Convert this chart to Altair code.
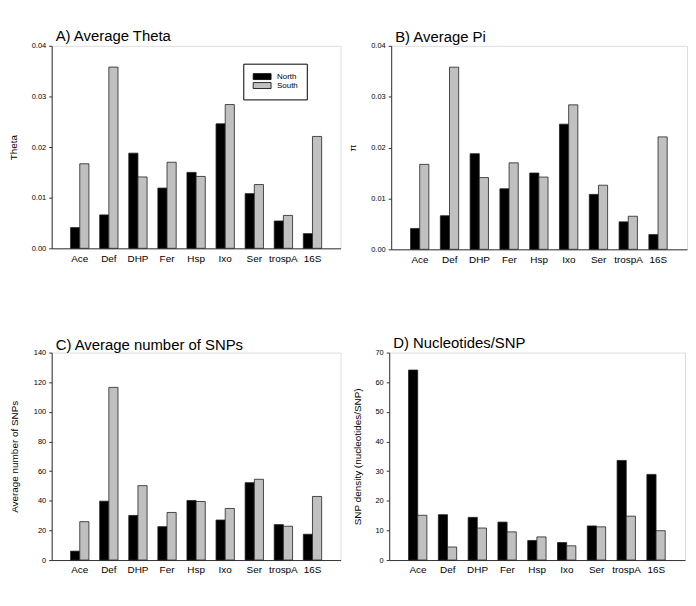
import altair as alt
import pandas as pd

genes = ["Ace", "Def", "DHP", "Fer", "Hsp", "Ixo", "Ser", "trospA", "16S"]
groups = ["North", "South"]

theta_north = [0.0041, 0.0066, 0.0188, 0.0119, 0.0150, 0.0246, 0.0108, 0.0054, 0.0029]
theta_south = [0.0167, 0.0358, 0.0141, 0.0170, 0.0142, 0.0284, 0.0126, 0.0065, 0.0221]

pi_north = [0.0041, 0.0066, 0.0188, 0.0119, 0.0150, 0.0246, 0.0108, 0.0054, 0.0029]
pi_south = [0.0167, 0.0358, 0.0141, 0.0170, 0.0142, 0.0284, 0.0126, 0.0065, 0.0221]

snps_north = [6.0, 39.7, 30.1, 22.5, 40.2, 27.0, 52.2, 23.9, 17.4]
snps_south = [25.9, 116.5, 50.2, 32.1, 39.5, 34.8, 54.5, 22.8, 42.9]

dens_north = [64.1, 15.3, 14.4, 12.8, 6.6, 5.9, 11.5, 33.6, 28.9]
dens_south = [15.1, 4.4, 10.8, 9.5, 7.8, 4.8, 11.2, 14.8, 9.9]

FONT = "Liberation Sans"


def panel(north, south, title, ytitle, ymax, ystep, fmt, width, height,
          title_x, title_offset, legend=False):
    df = pd.DataFrame({
        "gene": genes * 2,
        "pop": ["North"] * len(genes) + ["South"] * len(genes),
        "value": north + south,
    })
    ticks = [round(i * ystep, 4) for i in range(int(round(ymax / ystep)) + 1)]
    if legend:
        leg = alt.Legend(
            title=None, orient="none", legendX=193, legendY=18,
            symbolType="M-3,-1L3,-1L3,1L-3,1Z", symbolSize=36,
            symbolStrokeColor="#000000", symbolStrokeWidth=0.8,
            symbolOffset=6,
            labelFont=FONT, labelFontSize=8, labelColor="#000000",
            strokeColor="#000000", padding=9, rowPadding=-1, labelOffset=11,
            fillColor="#ffffff",
        )
    else:
        leg = None
    chart = alt.Chart(df, title=alt.TitleParams(
        title, anchor="start", frame="group", dx=4, offset=title_offset,
        fontSize=15, font=FONT, fontWeight="normal", color="#000000",
    )).mark_bar(stroke="#222222", strokeWidth=0.8).encode(
        x=alt.X("gene:N", sort=genes, title=None,
                scale=alt.Scale(paddingInner=0.37, paddingOuter=0.65),
                axis=alt.Axis(labelAngle=0, ticks=False, labelFontSize=10,
                              labelFont=FONT, labelPadding=5, labelColor="#000000",
                              domainColor="#333333")),
        xOffset=alt.XOffset("pop:N", sort=groups, scale=alt.Scale(paddingInner=0, paddingOuter=0)),
        y=alt.Y("value:Q", title=ytitle,
                scale=alt.Scale(domain=[0, ymax], nice=False),
                axis=alt.Axis(values=ticks, format=fmt, grid=False, tickSize=3,
                              labelFontSize=7.5, labelFont=FONT, labelColor="#000000",
                              labelPadding=3, tickColor="#333333", domainColor="#333333",
                              titleFont=FONT, titleFontSize=10, titleFontWeight="normal",
                              titleColor="#000000", titleX=title_x, titleBaseline="middle")),
        color=alt.Color("pop:N", sort=groups,
                        scale=alt.Scale(domain=groups, range=["#000000", "#c0c0c0"]),
                        legend=leg),
    ).properties(width=width, height=height)
    return chart


a = panel(theta_north, theta_south, "A) Average Theta", "Theta", 0.04, 0.01, ".2f",
          291, 204, -38, -2, legend=True)
b = panel(pi_north, pi_south, "B) Average Pi", "π", 0.04, 0.01, ".2f",
          298, 205, -39, -3)
c = panel(snps_north, snps_south, "C) Average number of SNPs", "Average number of SNPs",
          140, 20, "d", 291, 209, -37, -4)
d = panel(dens_north, dens_south, "D) Nucleotides/SNP", "SNP density (nucleotides/SNP)",
          70, 10, "d", 298, 209, -32, -2)

top = alt.hconcat(a, b, spacing=5).resolve_scale(color="independent").resolve_legend(color="independent")
bottom = alt.hconcat(c, d, spacing=10).resolve_scale(color="independent").resolve_legend(color="independent")

chart = alt.vconcat(top, bottom, spacing=70).resolve_scale(
    color="independent").resolve_legend(color="independent").properties(
    padding={"left": 0, "top": 18, "right": 0, "bottom": 0}
).configure_view(stroke=None).configure(background="#ffffff")

chart.save("out.html", embed_options={"renderer": "svg", "actions": False})
